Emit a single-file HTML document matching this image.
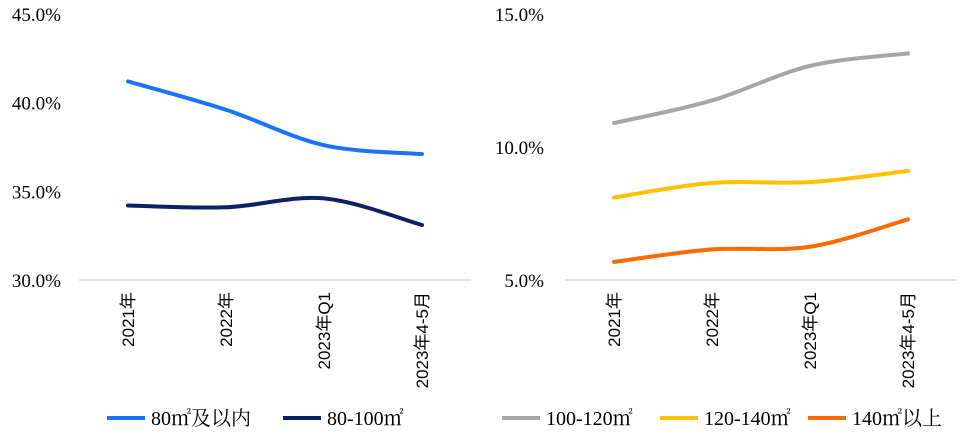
<!DOCTYPE html>
<html><head><meta charset="utf-8"><style>
body{margin:0;background:#fff;width:960px;height:435px;overflow:hidden}
svg{display:block}
.yl{font-family:"Liberation Serif","Noto Serif CJK SC",serif;font-size:19px;fill:#000}
.xl{font-family:"Liberation Sans","Noto Sans CJK SC",sans-serif;font-size:17px;fill:#000}
.lg{font-family:"Liberation Serif","Noto Serif CJK SC",serif;font-size:20px;fill:#000}
</style></head><body>
<svg id="c" width="960" height="435"></svg>
<script>
const categories=["2021年","2022年","2023年Q1","2023年4-5月"];
const leftTicks=[30,35,40,45];
const rightTicks=[5,10,15];
const s80=[41.2,39.6,37.6,37.1];
const s80to100=[34.2,34.1,34.6,33.1];
const s100to120=[10.9,11.75,13.05,13.52];
const s120to140=[8.1,8.65,8.68,9.1];
const s140=[5.68,6.15,6.25,7.28];
const NS="http://www.w3.org/2000/svg";
const svg=document.getElementById('c');
function el(t,a,p){const e=document.createElementNS(NS,t);for(const k in a)e.setAttribute(k,a[k]);(p||svg).appendChild(e);return e;}
function panel(name,x0,x1,ymin,ymax,ticks,labelX,series){
  const g=el('g',{});
  
  
  const yS=v=>280-(v-ymin)/(ymax-ymin)*266;
  const bw=(x1-x0)/categories.length;
  const xS=i=>x0+bw*(i+0.5);
  const ax=el('line',{x1:x0,x2:x1,y1:280,y2:280,stroke:'#d9d9d9','stroke-width':1.5},g);
  
  
  ticks.forEach(t=>{const tx=el('text',{x:labelX,y:yS(t)+7,'text-anchor':'end',class:'yl'},g);tx.textContent=t.toFixed(1)+'%';
    
    });
  categories.forEach((c,i)=>{const tx=el('text',{x:0,y:0,'text-anchor':'end',class:'xl',transform:`translate(${xS(i)+6},292) rotate(-90)`},g);tx.textContent=c;
    
    });
  series.forEach(s=>{
    const pts=s.v.map((v,i)=>[xS(i),yS(v)]);
    let d=`M${pts[0][0]},${pts[0][1]}`;
    for(let i=0;i<pts.length-1;i++){
      const p0=pts[i-1]||pts[i],p1=pts[i],p2=pts[i+1],p3=pts[i+2]||p2;
      const c1=[p1[0]+(p2[0]-p0[0])/6,p1[1]+(p2[1]-p0[1])/6];
      const c2=[p2[0]-(p3[0]-p1[0])/6,p2[1]-(p3[1]-p1[1])/6];
      d+=` C${c1[0]},${c1[1]} ${c2[0]},${c2[1]} ${p2[0]},${p2[1]}`;
    }
    const p=el('path',{d,fill:'none',stroke:s.c,'stroke-width':4,'stroke-linecap':'round'},g);
    
    
  });
}
panel('left-chart',79,471,30,45,leftTicks,61,[{v:s80,c:'#1a73ff',n:'line-80-below'},{v:s80to100,c:'#0b2262',n:'line-80-100'}]);
panel('right-chart',565,957,5,15,rightTicks,544,[{v:s100to120,c:'#a6a6a6',n:'line-100-120'},{v:s120to140,c:'#ffc000',n:'line-120-140'},{v:s140,c:'#ff6a00',n:'line-140-above'}]);
const legend=[[107,'#1a73ff','80㎡及以内'],[283,'#0b2262','80-100㎡'],[502,'#a6a6a6','100-120㎡'],[660,'#ffc000','120-140㎡'],[808,'#ff6a00','140㎡以上']];
legend.forEach(([x,c,t])=>{
  const g=el('g',{});
  
  
  el('line',{x1:x,x2:x+38,y1:418,y2:418,stroke:c,'stroke-width':4},g);
  const tx=el('text',{x:x+44,y:425,class:'lg'},g);tx.textContent=t;
});
</script>
</body></html>
